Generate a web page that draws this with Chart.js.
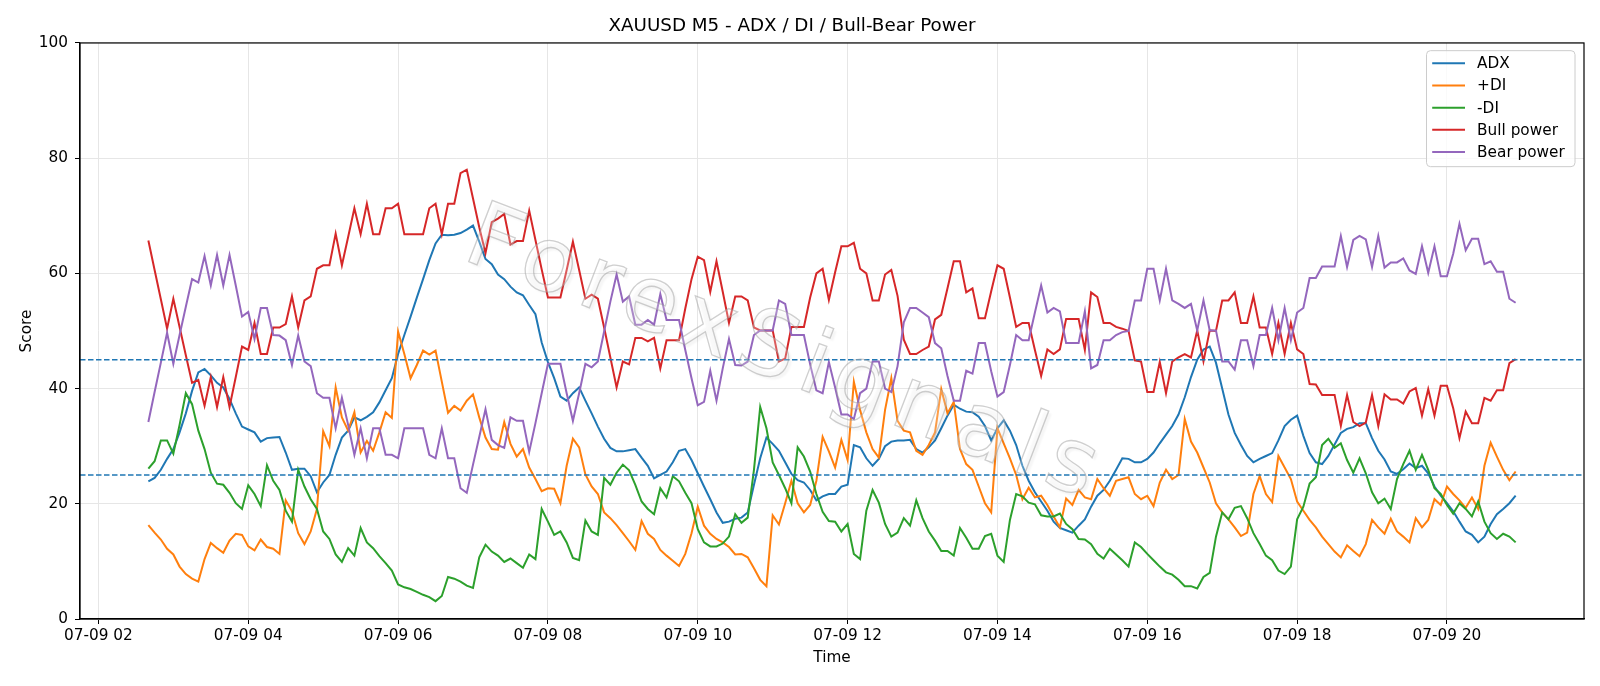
<!DOCTYPE html>
<html>
<head>
<meta charset="utf-8">
<script src="https://cdn.jsdelivr.net/npm/chart.js@4.4.1/dist/chart.umd.min.js"></script>
<style>
  html, body { margin: 0; padding: 0; background: #fff; }
  #wrap { width: 1600px; height: 686px; }
</style>
</head>
<body>
<div id="wrap"><canvas id="chart" width="1600" height="686"></canvas></div>
<script>
// XAUUSD M5, first bar 07-09 02:40, one value every 5 minutes
const startHour = 2 + 40 / 60;
const stepHour = 5 / 60;
const tickHours = [2, 4, 6, 8, 10, 12, 14, 16, 18, 20];
const tickLabels = ['07-09 02', '07-09 04', '07-09 06', '07-09 08', '07-09 10',
                    '07-09 12', '07-09 14', '07-09 16', '07-09 18', '07-09 20'];
const thresholds = [25, 45];

const adx = [
  23.9, 24.5, 25.9, 27.8, 29.5, 32.4, 35.7, 39.6, 42.8, 43.4,
  42.3, 41.0, 40.2, 38.2, 35.7, 33.4, 32.9, 32.4, 30.8, 31.4,
  31.5, 31.6, 28.9, 25.9, 26.1, 26.1, 24.8, 22.0, 23.7, 25.0,
  28.5, 31.5, 32.7, 35.0, 34.5, 35.1, 35.9, 37.6, 39.7, 41.8,
  46.0, 49.3, 52.5, 55.8, 59.0, 62.3, 65.2, 66.7, 66.6, 66.7,
  67.0, 67.6, 68.3, 65.5, 62.5, 61.6, 59.8, 59.0, 57.7, 56.7,
  56.2, 54.5, 52.9, 48.0, 44.6, 41.8, 38.6, 37.9, 39.2, 40.2,
  37.9, 35.7, 33.4, 31.3, 29.7, 29.1, 29.1, 29.3, 29.5, 28.0,
  26.6, 24.4, 25.0, 25.6, 27.2, 29.2, 29.5, 27.6, 25.3, 23.0,
  20.8, 18.5, 16.7, 16.9, 17.4, 17.6, 18.5, 23.3, 27.9, 31.5,
  30.4, 29.2, 27.2, 25.2, 24.1, 23.7, 22.4, 20.6, 21.3, 21.7,
  21.7, 23.0, 23.3, 30.2, 29.8, 27.9, 26.6, 27.8, 30.0, 30.8,
  31.0, 31.0, 31.1, 29.5, 28.9, 29.8, 31.0, 33.1, 35.3, 37.2,
  36.5, 36.0, 35.9, 35.1, 33.5, 31.0, 33.1, 34.5, 32.7, 30.2,
  26.6, 24.0, 22.0, 20.4, 18.8, 16.9, 15.8, 15.4, 15.0, 16.2,
  17.3, 19.5, 21.4, 22.4, 24.0, 25.9, 27.9, 27.8, 27.2, 27.2,
  27.8, 28.9, 30.5, 32.0, 33.5, 35.5, 38.5, 42.0, 45.0, 46.8,
  47.3, 44.5, 40.0, 35.5, 32.3, 30.2, 28.3, 27.2, 27.8, 28.3,
  28.8, 31.0, 33.5, 34.6, 35.3, 31.8, 28.8, 27.2, 26.9, 28.3,
  30.3, 32.3, 33.0, 33.3, 34.0, 34.0, 31.4, 29.2, 27.7, 25.6,
  25.2, 26.0, 27.0, 26.2, 26.6, 25.3, 23.0, 21.4, 20.1, 18.7,
  16.9, 15.2, 14.6, 13.3, 14.3, 16.5, 18.2, 19.1, 20.1, 21.4
];

const plusDI = [
  16.3, 15.0, 13.8, 12.2, 11.2, 9.1, 7.8, 7.0, 6.5, 10.4,
  13.2, 12.3, 11.5, 13.6, 14.8, 14.6, 12.6, 11.9, 13.8, 12.5,
  12.2, 11.3, 20.6, 18.7, 14.9, 13.0, 15.2, 19.1, 32.6, 30.0,
  40.2, 35.0, 32.7, 35.9, 28.9, 30.9, 29.2, 32.4, 35.9, 34.9,
  49.9, 46.0, 41.8, 44.1, 46.6, 45.9, 46.6, 41.2, 35.8, 37.0,
  36.2, 37.9, 39.0, 35.0, 31.5, 29.5, 29.4, 34.2, 30.4, 28.2,
  29.5, 26.3, 24.3, 22.2, 22.7, 22.6, 20.1, 26.6, 31.3, 29.8,
  25.1, 23.0, 21.7, 18.5, 17.5, 16.3, 14.9, 13.5, 12.0, 17.0,
  14.8, 13.9, 12.0, 11.0, 10.1, 9.2, 11.3, 14.9, 19.5, 16.2,
  14.8, 13.9, 13.3, 12.5, 11.2, 11.3, 10.7, 8.8, 6.8, 5.7,
  18.0, 16.4, 20.1, 24.0, 20.1, 18.5, 19.8, 24.0, 31.6, 29.1,
  26.3, 31.1, 27.6, 41.2, 36.3, 32.4, 29.5, 28.0, 36.3, 41.8,
  34.4, 32.7, 32.4, 29.2, 28.5, 30.2, 32.4, 39.9, 35.7, 37.7,
  29.5, 26.9, 25.9, 23.0, 20.1, 18.5, 33.1, 30.5, 27.9, 25.0,
  20.8, 22.8, 21.1, 21.4, 19.8, 17.8, 15.9, 20.9, 19.8, 22.4,
  21.1, 20.8, 24.3, 22.7, 21.4, 24.0, 24.3, 24.6, 21.7, 20.8,
  21.4, 19.6, 23.7, 25.9, 24.3, 25.0, 34.7, 30.8, 28.9, 26.3,
  23.7, 20.1, 18.5, 17.3, 15.9, 14.4, 15.0, 21.7, 24.8, 21.7,
  20.3, 28.3, 26.3, 24.3, 20.4, 18.8, 17.2, 15.9, 14.3, 13.0,
  11.7, 10.7, 12.8, 11.8, 10.9, 13.0, 17.2, 15.9, 14.8, 17.4,
  15.2, 14.3, 13.3, 17.5, 15.9, 17.2, 20.8, 19.8, 23.0, 21.7,
  20.6, 19.3, 21.1, 19.1, 26.6, 30.6, 28.2, 25.9, 24.1, 25.6
];

const minusDI = [
  26.1, 27.4, 31.0, 31.0, 28.7, 33.7, 39.2, 37.3, 32.7, 29.5,
  25.4, 23.5, 23.3, 21.9, 20.1, 19.1, 23.2, 21.7, 19.6, 26.7,
  24.0, 22.4, 18.8, 16.9, 25.9, 23.0, 20.8, 19.1, 15.2, 13.9,
  11.2, 9.9, 12.3, 11.0, 15.8, 13.3, 12.3, 10.9, 9.7, 8.4,
  6.0, 5.5, 5.2, 4.7, 4.2, 3.8, 3.1, 4.0, 7.3, 7.0,
  6.5, 5.8, 5.4, 10.7, 12.9, 11.7, 11.0, 9.9, 10.5, 9.7,
  8.9, 11.2, 10.4, 19.1, 16.9, 14.6, 15.2, 13.3, 10.6, 10.2,
  17.1, 15.2, 14.6, 24.5, 23.3, 25.4, 26.8, 25.8, 23.3, 20.4,
  19.1, 18.2, 22.7, 21.1, 24.8, 23.9, 21.9, 20.1, 15.6, 13.3,
  12.6, 12.6, 13.1, 14.3, 18.2, 16.7, 17.6, 25.9, 36.8, 33.1,
  27.2, 25.0, 22.7, 20.1, 29.8, 28.2, 25.6, 21.7, 18.6, 17.0,
  16.9, 15.2, 16.5, 11.3, 10.4, 18.8, 22.4, 20.2, 16.5, 14.3,
  15.0, 17.5, 16.2, 20.6, 17.5, 15.2, 13.6, 11.8, 11.8, 11.0,
  15.8, 14.1, 12.2, 12.2, 14.4, 14.8, 11.0, 9.9, 17.2, 21.7,
  21.3, 20.2, 19.9, 18.0, 17.8, 17.8, 18.3, 16.5, 15.6, 13.9,
  13.8, 13.0, 11.3, 10.5, 12.2, 11.2, 10.2, 9.1, 13.3, 12.5,
  11.3, 10.2, 9.1, 8.1, 7.7, 6.8, 5.7, 5.7, 5.3, 7.3,
  8.0, 14.3, 18.5, 17.3, 19.3, 19.6, 17.5, 14.9, 13.0, 11.0,
  10.2, 8.4, 7.8, 9.1, 17.3, 19.5, 23.5, 24.6, 30.2, 31.3,
  29.7, 30.5, 27.6, 25.4, 27.9, 25.3, 22.0, 20.1, 20.9, 19.1,
  24.3, 26.9, 29.2, 25.9, 28.5, 25.9, 22.7, 21.7, 19.8, 18.3,
  20.1, 19.1, 17.8, 20.4, 16.9, 14.9, 13.9, 14.8, 14.3, 13.3
];

const bullPower = [
  65.7, 60.6, 55.5, 50.4, 55.6, 50.7, 45.8, 41.0, 41.5, 37.0,
  42.0, 36.8, 42.0, 36.8, 42.0, 47.3, 46.7, 51.4, 46.0, 46.0,
  50.6, 50.6, 51.2, 56.0, 50.6, 55.3, 56.0, 60.8, 61.4, 61.4,
  66.9, 61.4, 66.3, 71.3, 66.8, 72.1, 66.8, 66.8, 71.3, 71.3,
  72.1, 66.8, 66.8, 66.8, 66.8, 71.3, 72.1, 66.8, 72.1, 72.1,
  77.4, 78.0, 73.0, 68.0, 63.5, 68.9, 69.5, 70.3, 65.0, 65.6,
  65.6, 70.9, 65.8, 60.7, 55.8, 55.8, 55.8, 60.6, 65.5, 60.6,
  55.6, 56.3, 55.6, 50.6, 45.4, 40.2, 44.7, 44.2, 48.8, 48.8,
  48.2, 48.8, 43.5, 48.4, 48.4, 48.4, 53.9, 59.0, 62.9, 62.3,
  56.8, 62.1, 56.8, 51.4, 56.0, 56.0, 55.3, 50.6, 50.1, 50.1,
  50.1, 44.7, 45.2, 50.7, 50.7, 50.7, 55.8, 60.0, 60.8, 55.4,
  60.2, 64.7, 64.7, 65.3, 60.8, 60.0, 55.3, 55.3, 59.8, 60.6,
  56.1, 48.5, 46.0, 46.0, 46.7, 47.3, 52.0, 52.8, 57.4, 62.1,
  62.1, 56.7, 57.4, 52.2, 52.2, 56.9, 61.4, 60.8, 55.8, 50.7,
  51.4, 51.4, 46.7, 42.2, 46.8, 46.0, 46.8, 52.1, 52.1, 52.1,
  46.7, 56.7, 55.9, 51.4, 51.4, 50.7, 50.4, 50.0, 44.9, 44.7,
  39.4, 39.4, 44.6, 39.2, 44.7, 45.4, 46.0, 45.4, 50.1, 44.7,
  50.1, 50.0, 55.3, 55.3, 56.7, 51.4, 51.4, 56.0, 50.6, 50.6,
  46.0, 51.4, 46.0, 51.4, 46.8, 46.0, 40.8, 40.7, 38.9, 38.9,
  38.9, 33.5, 38.9, 34.2, 33.5, 34.1, 38.9, 33.5, 39.0, 38.1,
  38.1, 37.4, 39.5, 40.1, 35.3, 39.9, 35.3, 40.5, 40.5, 36.6,
  31.4, 36.0, 34.0, 34.0, 38.4, 37.9, 39.7, 39.7, 44.4, 45.1
];

const bearPower = [
  34.2, 39.4, 44.5, 49.7, 44.3, 49.3, 54.2, 59.0, 58.4, 63.0,
  57.9, 63.2, 57.9, 63.2, 57.9, 52.5, 53.3, 48.6, 54.0, 54.0,
  49.3, 49.2, 48.4, 44.1, 49.2, 44.7, 43.9, 39.2, 38.4, 38.4,
  33.1, 38.4, 33.7, 28.5, 33.1, 27.9, 33.1, 33.1, 28.5, 28.5,
  27.9, 33.1, 33.1, 33.1, 33.1, 28.5, 27.9, 33.1, 27.9, 27.9,
  22.7, 21.9, 26.8, 31.6, 36.4, 31.1, 30.2, 29.7, 35.0, 34.4,
  34.4, 29.0, 34.0, 39.2, 44.3, 44.3, 44.3, 39.2, 34.4, 39.2,
  44.3, 43.7, 44.7, 49.9, 55.1, 59.8, 55.1, 56.0, 51.1, 51.1,
  51.9, 51.1, 56.4, 51.9, 51.9, 51.9, 46.7, 41.8, 37.1, 37.7,
  43.1, 37.9, 43.5, 48.6, 44.1, 44.0, 44.7, 49.3, 50.1, 50.1,
  50.1, 55.3, 54.7, 49.3, 49.3, 49.3, 44.2, 39.7, 39.2, 44.6,
  40.2, 35.5, 35.5, 34.7, 39.2, 40.0, 44.7, 44.7, 40.0, 39.4,
  43.9, 51.5, 54.0, 54.0, 53.2, 52.4, 47.9, 47.0, 42.2, 37.9,
  37.9, 43.1, 42.6, 47.9, 47.9, 43.0, 38.6, 39.4, 44.1, 49.3,
  48.4, 48.4, 53.2, 57.9, 53.2, 54.0, 53.4, 47.9, 47.9, 47.9,
  53.4, 43.5, 44.1, 48.4, 48.4, 49.3, 49.8, 50.0, 55.3, 55.3,
  60.8, 60.8, 55.3, 60.8, 55.3, 54.7, 54.0, 54.7, 50.1, 55.3,
  50.1, 50.1, 44.7, 44.7, 43.3, 48.4, 48.4, 43.9, 49.3, 49.3,
  54.0, 48.4, 54.0, 48.4, 53.2, 54.0, 59.2, 59.2, 61.2, 61.2,
  61.2, 66.5, 61.1, 65.8, 66.5, 65.9, 61.1, 66.5, 61.0, 61.9,
  61.9, 62.6, 60.5, 59.9, 64.7, 60.1, 64.7, 59.5, 59.5, 63.4,
  68.6, 64.0, 66.0, 66.0, 61.6, 62.1, 60.3, 60.3, 55.6, 54.9
];

const hours = adx.map((_, i) => startHour + i * stepHour);
const span = hours[hours.length - 1] - hours[0];

function series(label, values, color, order) {
  return {
    label: label,
    data: values.map((v, i) => ({ x: hours[i], y: v })),
    borderColor: color,
    backgroundColor: color,
    borderWidth: 2,
    pointRadius: 0,
    tension: 0,
    order: order
  };
}

// threshold lines, watermark, frame and legend drawn on top of the plot
const overlay = {
  id: 'overlay',
  afterDatasetsDraw(chart) {
    const { ctx, chartArea: a, scales: { y } } = chart;
    ctx.save();
    ctx.strokeStyle = '#1f77b4';
    ctx.lineWidth = 1.4;
    ctx.setLineDash([5.5, 2.5]);
    thresholds.forEach(v => {
      const py = y.getPixelForValue(v);
      ctx.beginPath();
      ctx.moveTo(a.left, py);
      ctx.lineTo(a.right, py);
      ctx.stroke();
    });
    ctx.restore();

    ctx.save();
    ctx.translate(785, 358);
    ctx.rotate(21 * Math.PI / 180);
    ctx.font = '90px "DejaVu Sans"';
    ctx.letterSpacing = '9px';
    ctx.textAlign = 'center';
    ctx.textBaseline = 'middle';
    ctx.fillStyle = 'rgba(255,255,255,0.25)';
    ctx.shadowColor = 'rgba(0,0,0,0.15)';
    ctx.shadowOffsetX = 3;
    ctx.shadowOffsetY = 3;
    ctx.shadowBlur = 2;
    ctx.fillText('ForexSignals', 0, 0);
    ctx.shadowColor = 'transparent';
    ctx.strokeStyle = 'rgba(160,160,160,0.5)';
    ctx.lineWidth = 1.3;
    ctx.strokeText('ForexSignals', 0, 0);
    ctx.restore();
  },
  afterDraw(chart) {
    const { ctx, chartArea: a } = chart;
    ctx.save();
    ctx.strokeStyle = '#000';
    ctx.lineWidth = 1.2;
    ctx.strokeRect(a.left, a.top, a.right - a.left, a.bottom - a.top);

    // legend box, upper right like matplotlib
    const bx = a.right - 157.5, by = a.top + 7.7, bw = 148.5, bh = 116;
    ctx.beginPath();
    ctx.roundRect(bx, by, bw, bh, 4);
    ctx.fillStyle = 'rgba(255,255,255,0.8)';
    ctx.fill();
    ctx.strokeStyle = '#cccccc';
    ctx.lineWidth = 1;
    ctx.stroke();
    ctx.font = '15.3px "DejaVu Sans"';
    ctx.textBaseline = 'middle';
    ctx.textAlign = 'left';
    chart.data.datasets.forEach((ds, k) => {
      const ly = by + 12.6 + k * 22.2;
      ctx.strokeStyle = ds.borderColor;
      ctx.lineWidth = 2;
      ctx.beginPath();
      ctx.moveTo(bx + 5.7, ly);
      ctx.lineTo(bx + 38.5, ly);
      ctx.stroke();
      ctx.fillStyle = '#000';
      ctx.fillText(ds.label, bx + 50.6, ly + 1);
    });
    ctx.restore();
  }
};

Chart.defaults.font.family = '"DejaVu Sans", sans-serif';
Chart.defaults.font.size = 15.3;
Chart.defaults.color = '#000';

new Chart(document.getElementById('chart').getContext('2d'), {
  type: 'line',
  data: {
    datasets: [
      series('ADX', adx, '#1f77b4', 5),
      series('+DI', plusDI, '#ff7f0e', 4),
      series('-DI', minusDI, '#2ca02c', 3),
      series('Bull power', bullPower, '#d62728', 2),
      series('Bear power', bearPower, '#9467bd', 1)
    ]
  },
  options: {
    responsive: false,
    animation: false,
    layout: { padding: { left: 0, right: 16, top: 0, bottom: 0 } },
    plugins: {
      legend: { display: false },
      tooltip: { enabled: false },
      title: {
        display: true,
        text: 'XAUUSD M5 - ADX / DI / Bull-Bear Power',
        font: { size: 18.3, weight: 'normal' },
        color: '#000',
        padding: { top: 15.5, bottom: 5.5 }
      }
    },
    scales: {
      x: {
        type: 'linear',
        min: hours[0] - span * 0.05,
        max: hours[hours.length - 1] + span * 0.05,
        afterBuildTicks: s => { s.ticks = tickHours.map(v => ({ value: v })); },
        afterFit: s => { s.height = 67; },
        ticks: {
          autoSkip: false,
          maxRotation: 0,
          padding: 3,
          callback: (v, i) => tickLabels[i]
        },
        grid: { color: '#e6e6e6', lineWidth: 1, tickColor: '#000', tickLength: 5 },
        border: { color: '#000', width: 1.2 },
        title: { display: true, text: 'Time', padding: { top: 0, bottom: 19 } }
      },
      y: {
        min: 0,
        max: 100,
        afterFit: s => { s.width = 80; },
        ticks: { stepSize: 20, padding: 7 },
        grid: { color: '#e6e6e6', lineWidth: 1, tickColor: '#000', tickLength: 5 },
        border: { color: '#000', width: 1.2 },
        title: { display: true, text: 'Score', padding: { top: 18, bottom: 0 } }
      }
    }
  },
  plugins: [overlay]
});
</script>
</body>
</html>
